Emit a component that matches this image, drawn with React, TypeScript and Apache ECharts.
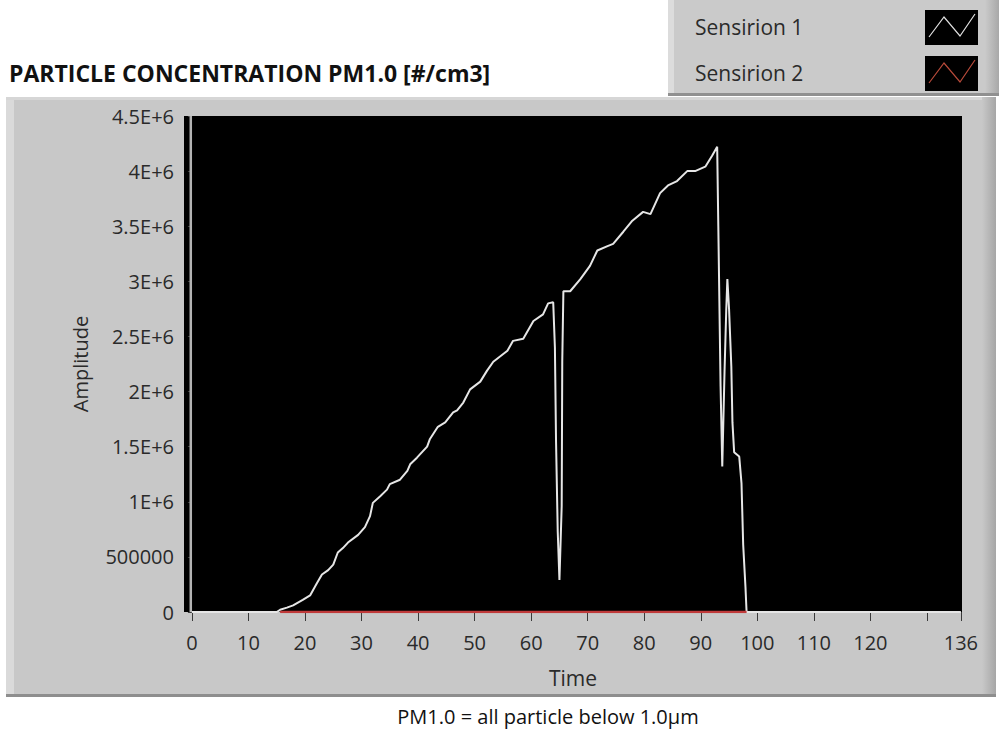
import { useEffect, useRef } from "react";
import * as echarts from "echarts";

// Sensirion 1 — PM1.0 particle concentration [#/cm3] over time
const sensirion1Time = [
  0, 15.0, 15.6, 16.8, 17.9, 19.6, 20.9, 22.1, 23.0, 24.1, 25.0, 25.8, 26.7, 27.6, 29.4, 30.6,
  31.5, 32.0, 33.3, 34.5, 35.0, 36.8, 38.1, 38.6, 39.8, 41.6, 42.1, 43.5, 44.8, 46.2, 46.9,
  48.0, 49.2, 51.0, 52.2, 53.3, 55.8, 56.8, 58.6, 60.4, 62.1, 63.0, 63.9, 64.2, 64.4, 64.7,
  65.0, 65.4, 65.5, 65.7, 66.9, 68.7, 70.4, 71.7, 73.5, 74.5, 76.3, 77.9, 79.8, 81.1, 82.8,
  84.2, 85.8, 87.6, 89.0, 90.8, 92.0, 92.9, 93.1, 93.5, 93.8, 94.2, 94.5, 94.7, 95.0, 95.4,
  95.6, 95.9, 96.8, 97.2, 97.5, 97.9, 98.1, 136,
];
const sensirion1Value = [
  0, 0, 20000, 40000, 60000, 110000, 150000, 260000, 340000, 380000, 430000, 540000, 580000,
  630000, 700000, 770000, 870000, 990000, 1050000, 1110000, 1160000, 1200000, 1280000,
  1340000, 1400000, 1500000, 1570000, 1680000, 1720000, 1810000, 1830000, 1900000, 2020000,
  2090000, 2190000, 2270000, 2370000, 2460000, 2480000, 2640000, 2700000, 2800000, 2810000,
  2400000, 1550000, 730000, 290000, 960000, 2270000, 2910000, 2910000, 3020000, 3140000,
  3280000, 3320000, 3340000, 3450000, 3550000, 3630000, 3610000, 3800000, 3870000, 3910000,
  4000000, 4000000, 4040000, 4140000, 4220000, 3500000, 2050000, 1320000, 2180000, 2730000,
  3020000, 2750000, 2230000, 1720000, 1450000, 1410000, 1170000, 610000, 230000, 0, 0,
];

// Sensirion 2 — stays at zero while recording
const sensirion2Time = [15.6, 98.1];
const sensirion2Value = [0, 0];

// Grey start cursor at t = 0, spanning the full amplitude range
const cursorTime = [-0.2, -0.2];
const cursorValue = [0, 4500000];

// Time axis ticks and labels
const timeTicks = [0, 10, 20, 30, 40, 50, 60, 70, 80, 90, 100, 110, 120, 130, 136];
const timeLabels = [0, 10, 20, 30, 40, 50, 60, 70, 80, 90, 100, 110, 120, 136];

const seriesNames = ["Sensirion 1", "Sensirion 2"];
const seriesColors = ["#e6e6e6", "#c03a3a"];

const FONT = "'Open Sans', 'Noto Sans', sans-serif";
const TEXT = "#2a2a2a";
const PANEL = "#c8c8c8";

const zip = (xs: number[], ys: number[]) => xs.map((x, i) => [x, ys[i]]);

const formatAmplitude = (v: number) => {
  if (v === 0) return "0";
  if (v < 1e6) return String(v);
  return `${v / 1e6}E+6`;
};

export default function App() {
  const ref = useRef<HTMLDivElement>(null);

  useEffect(() => {
    if (!ref.current) return;
    const chart = echarts.init(ref.current, null, { renderer: "svg" });

    const legendRows = seriesNames.map((name, i) => {
      const top = 10 + i * 46;
      return [
        {
          type: "text",
          silent: true,
          style: {
            x: 695,
            y: top + 17,
            text: name,
            fill: TEXT,
            font: `21px ${FONT}`,
            verticalAlign: "middle",
          },
        },
        {
          type: "rect",
          silent: true,
          shape: { x: 925, y: top, width: 53, height: 35 },
          style: { fill: "#000" },
        },
        {
          type: "polyline",
          silent: true,
          shape: {
            points: [
              [929, top + 27],
              [944, top + 7],
              [960, top + 26],
              [975, top + 4],
            ],
          },
          style: { stroke: i === 0 ? "#e0e0e0" : "#b84a3a", lineWidth: 1.2, fill: "none" },
        },
      ];
    }).flat();

    chart.setOption({
      animation: false,
      backgroundColor: "#ffffff",
      textStyle: { fontFamily: FONT },
      graphic: [
        // main front-panel frame
        { type: "rect", z: -10, silent: true, shape: { x: 6, y: 97, width: 990, height: 600 }, style: { fill: PANEL } },
        { type: "rect", z: -9, silent: true, shape: { x: 6, y: 97, width: 8, height: 600 }, style: { fill: "#dadada" } },
        { type: "rect", z: -9, silent: true, shape: { x: 6, y: 97, width: 990, height: 3 }, style: { fill: "#d6d6d6" } },
        {
          type: "rect",
          z: -9,
          silent: true,
          shape: { x: 982, y: 97, width: 14, height: 600 },
          style: {
            fill: new echarts.graphic.LinearGradient(0, 0, 1, 0, [
              { offset: 0, color: PANEL },
              { offset: 1, color: "#a6a6a6" },
            ]),
          },
        },
        { type: "rect", z: -9, silent: true, shape: { x: 6, y: 694, width: 990, height: 3 }, style: { fill: "#8e8e8e" } },
        // legend frame
        { type: "rect", z: -10, silent: true, shape: { x: 668, y: 0, width: 331, height: 96 }, style: { fill: "#cacaca" } },
        { type: "rect", z: -9, silent: true, shape: { x: 668, y: 0, width: 6, height: 96 }, style: { fill: "#dcdcdc" } },
        {
          type: "rect",
          z: -9,
          silent: true,
          shape: { x: 985, y: 0, width: 14, height: 96 },
          style: {
            fill: new echarts.graphic.LinearGradient(0, 0, 1, 0, [
              { offset: 0, color: "#cacaca" },
              { offset: 1, color: "#a8a8a8" },
            ]),
          },
        },
        { type: "rect", z: -9, silent: true, shape: { x: 668, y: 93, width: 331, height: 3 }, style: { fill: "#909090" } },
        ...legendRows,
        // title
        {
          type: "text",
          silent: true,
          style: {
            x: 9,
            y: 73,
            text: "PARTICLE CONCENTRATION PM1.0 [#/cm3]",
            fill: "#111",
            font: `bold 23px ${FONT}`,
            verticalAlign: "middle",
          },
        },
        // caption
        {
          type: "text",
          silent: true,
          style: {
            x: 548,
            y: 716,
            text: "PM1.0 = all particle below 1.0\u00b5m",
            fill: "#111",
            font: `20px ${FONT}`,
            align: "center",
            verticalAlign: "middle",
          },
        },
      ],
      grid: {
        left: 184,
        right: 37,
        top: 116,
        bottom: 124,
        show: true,
        backgroundColor: "#000",
        borderWidth: 0,
      },
      xAxis: {
        type: "value",
        min: -1.4,
        max: 136.2,
        offset: 5,
        name: "Time",
        nameLocation: "middle",
        nameGap: 50,
        nameTextStyle: { color: TEXT, fontSize: 21, fontFamily: FONT },
        axisLine: { show: false },
        axisTick: { show: true, length: 9, customValues: timeTicks, lineStyle: { color: "#3a3a3a", width: 1 } },
        axisLabel: {
          customValues: timeLabels,
          color: TEXT,
          fontSize: 20,
          margin: 15,
          fontFamily: FONT,
        },
        splitLine: { show: false },
      },
      yAxis: {
        type: "value",
        min: 0,
        max: 4500000,
        interval: 500000,
        offset: 4,
        name: "Amplitude",
        nameLocation: "middle",
        nameGap: 90,
        nameTextStyle: { color: TEXT, fontSize: 20, fontFamily: FONT },
        axisLine: { show: false },
        axisTick: { show: true, length: 4, lineStyle: { color: "#3a3a3a", width: 1 } },
        axisLabel: {
          color: TEXT,
          fontSize: 20,
          margin: 6,
          fontFamily: FONT,
          formatter: formatAmplitude,
        },
        splitLine: { show: false },
      },
      series: [
        {
          name: "cursor",
          type: "line",
          data: zip(cursorTime, cursorValue),
          showSymbol: false,
          symbol: "none",
          silent: true,
          clip: false,
          z: 3,
          lineStyle: { color: "#b4b4b4", width: 2.5 },
          itemStyle: { color: "#b4b4b4" },
        },
        {
          name: seriesNames[0],
          type: "line",
          data: zip(sensirion1Time, sensirion1Value),
          showSymbol: false,
          symbol: "none",
          lineStyle: { color: seriesColors[0], width: 2 },
          itemStyle: { color: seriesColors[0] },
        },
        {
          name: seriesNames[1],
          type: "line",
          data: zip(sensirion2Time, sensirion2Value),
          showSymbol: false,
          symbol: "none",
          lineStyle: { color: seriesColors[1], width: 2.5 },
          itemStyle: { color: seriesColors[1] },
        },
      ],
    });

    return () => chart.dispose();
  }, []);

  return (
    <div
      ref={ref}
      style={{ position: "absolute", left: 0, top: 0, width: 999, height: 736 }}
    />
  );
}
